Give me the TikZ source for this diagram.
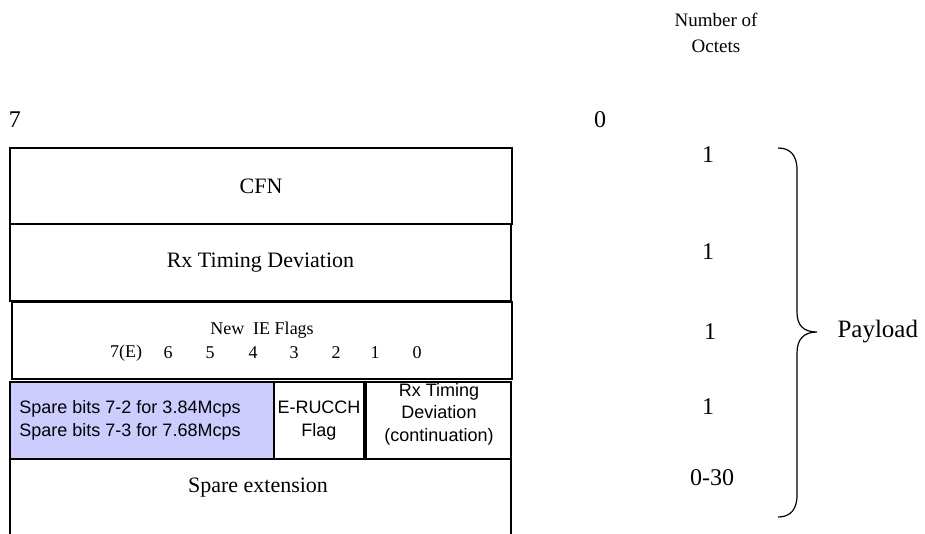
\documentclass[tikz,border=0pt]{standalone}
\usepackage{fontspec}
\setmainfont{Liberation Serif}
\setsansfont{Liberation Sans}
\begin{document}
\begin{tikzpicture}[x=1pt,y=-1pt,
  field/.style={draw=black, line width=1.1pt, inner sep=0pt, outer sep=0pt, anchor=center},
  big/.style={font=\fontsize{22}{26}\selectfont},
  side/.style={font=\fontsize{24}{28}\selectfont},
  small/.style={font=\fontsize{18}{22}\selectfont},
  sans/.style={font=\sffamily\fontsize{18}{23}\selectfont, align=center}]
\definecolor{sparefill}{RGB}{204,204,255}
\useasboundingbox (0,0) rectangle (925,533);

% header labels
\node[font=\fontsize{19}{26}\selectfont, align=center] (noct) at (716,33) {Number of\\Octets};
\node[side] (b7) at (15,120) {7};
\node[side] (b0) at (600,120) {0};

% fields
\node[field, big, minimum width=502pt, minimum height=76pt] (cfn) at (261,186) {CFN};
\node[field, big, minimum width=501pt, minimum height=77pt] (rxtd) at (260.5,262.5) {Rx Timing Deviation};
\node[field, minimum width=500pt, minimum height=77pt] (ief) at (262,340.5) {};
\node[small] (ieft) at (262,330) {New\ \ IE Flags};
\foreach \lab/\xx [count=\i] in {7(E)/126,6/168,5/210,4/253,3/294,2/336,1/375,0/417}
  \node[small] (bit\i) at (\xx,353) {\lab};

\node[field, fill=sparefill, minimum width=264pt, minimum height=77pt] (spare) at (142,420.5) {};
\node[sans] (sparet) at (130,420) {Spare bits 7-2 for 3.84Mcps\\Spare bits 7-3 for 7.68Mcps};
\node[field, sans, minimum width=90pt, minimum height=77pt] (erucch) at (319,420.5) {E-RUCCH\\Flag};
\node[field, minimum width=145pt, minimum height=77pt] (rxc) at (438.5,420.5) {};
\node[sans, font=\sffamily\fontsize{18}{22.5}\selectfont] (rxct) at (439,414) {Rx Timing\\Deviation\\(continuation)};

\draw[line width=1.1pt] (10,540) -- (10,459) -- (511,459) -- (511,540);
\node[big] (spext) at (258,488) {Spare extension};

% octet counts
\node[side] (n1) at (708,155) {1};
\node[side] (n2) at (708,252) {1};
\node[side] (n3) at (710,332) {1};
\node[side] (n4) at (708,407) {1};
\node[side] (n5) at (712,478) {0-30};

% brace
\coordinate (btop) at (778,148);
\coordinate (btip) at (817,332);
\coordinate (bbot) at (778,517);
\draw[line width=1.2pt] (btop) .. controls (790,148) and (797,155) .. (797,170) -- (797,312)
  .. controls (797,325) and (803,332) .. (btip)
  .. controls (803,332) and (797,340) .. (797,353) -- (797,495)
  .. controls (797,510) and (790,517) .. (bbot);
\node[font=\fontsize{25}{28}\selectfont, anchor=west] (pay) at (834,332) {Payload};
\end{tikzpicture}
\end{document}
